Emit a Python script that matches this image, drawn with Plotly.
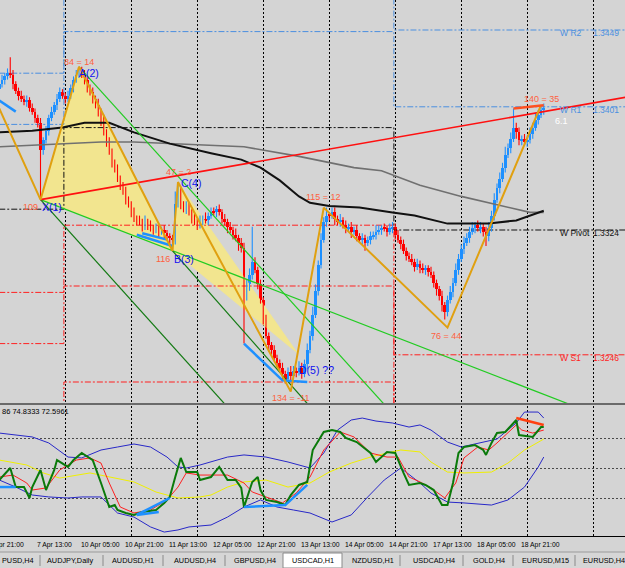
import plotly.graph_objects as go

# ---------------- DATA ----------------
first_open = 1.3412
closes = [
 1.3415,1.3418,1.3420,1.3422,1.3421,1.3415,1.3411,1.3408,1.3406,1.3404,
 1.3405,1.3400,1.3398,1.3394,1.3391,1.3374,1.3380,1.3386,1.3394,1.3398,
 1.3402,1.3406,1.3410,1.3408,1.3406,1.3408,1.3413,1.3418,1.3421,1.3424,
 1.3421,1.3418,1.3413,1.3410,1.3406,1.3402,1.3398,1.3393,1.3385,1.3379,
 1.3373,1.3366,1.3362,1.3356,1.3352,1.3348,1.3343,1.3340,1.3335,1.3331,
 1.3330,1.3329,1.3326,1.3329,1.3327,1.3325,1.3324,1.3325,1.3323,1.3324,
 1.3322,1.3320,1.3319,1.3318,1.3340,1.3348,1.3340,1.3337,1.3338,1.3335,
 1.3331,1.3329,1.3327,1.3330,1.3331,1.3330,1.3333,1.3335,1.3335,1.3337,
 1.3335,1.3331,1.3329,1.3326,1.3324,1.3321,1.3319,1.3316,1.3313,1.3283,
 1.3290,1.3296,1.3304,1.3299,1.3290,1.3280,1.3268,1.3258,1.3252,1.3249,
 1.3244,1.3241,1.3238,1.3234,1.3231,1.3235,1.3233,1.3236,1.3235,1.3238,
 1.3234,1.3240,1.3249,1.3258,1.3271,1.3286,1.3302,1.3318,1.3329,1.3333,
 1.3333,1.3335,1.3331,1.3329,1.3330,1.3327,1.3325,1.3326,1.3323,1.3324,
 1.3320,1.3318,1.3319,1.3316,1.3318,1.3320,1.3321,1.3323,1.3324,1.3325,
 1.3325,1.3323,1.3325,1.3326,1.3321,1.3318,1.3315,1.3311,1.3308,1.3306,
 1.3304,1.3301,1.3303,1.3300,1.3299,1.3300,1.3298,1.3296,1.3291,1.3287,
 1.3283,1.3277,1.3273,1.3280,1.3285,1.3291,1.3299,1.3306,1.3312,1.3316,
 1.3319,1.3323,1.3325,1.3327,1.3325,1.3326,1.3323,1.3320,1.3325,1.3333,
 1.3343,1.3350,1.3356,1.3363,1.3371,1.3375,1.3381,1.3388,1.3385,1.3380,
 1.3381,1.3379,1.3380,1.3384,1.3388,1.3393,1.3396,1.3399,1.3400,
]
up_wick_pips = [
 2,3,2,3,10,3,2,2,3,2, 3,2,3,2,2,3,2,3,2,3, 2,3,3,2,2,3,2,2,3,2,
 2,3,2,2,3,2,4,2,3,2, 3,2,2,3,2,2,3,2,2,3, 2,3,2,4,2,3,2,3,2,2,
 3,2,2,2,8,6,3,2,4,3, 2,3,2,3,2,4,2,3,3,2, 3,2,3,2,3,2,4,2,3,3,
 3,4,22,3,2,3,2,3,2,2, 3,2,2,3,2,3,4,3,2,4, 3,3,4,3,5,4,3,4,3,5,
 2,3,3,2,4,2,3,2,3,2, 3,2,3,2,2,3,2,4,3,2, 3,2,3,3,2,3,2,3,2,2,
 3,2,3,2,3,2,2,3,2,2, 2,3,2,3,4,3,4,3,3,4, 3,3,4,2,3,3,2,3,4,3,
 4,3,4,3,5,3,4,12,3,3, 2,3,3,4,3,4,3,2,3,
]
dn_wick_pips = [
 2,2,3,2,2,3,2,3,2,2, 3,2,2,3,3,30,3,2,3,2, 2,3,2,2,3,2,2,3,2,2,
 2,3,3,2,3,2,3,4,2,3, 2,3,2,2,3,2,3,2,3,2, 3,2,3,2,3,2,3,2,4,2,
 3,2,4,7,3,2,3,2,3,2, 3,2,3,2,3,2,3,2,2,3, 2,3,2,4,2,3,2,5,3,30,
 3,4,3,2,3,2,3,2,4,3, 2,3,2,3,3,2,3,2,3,2, 3,2,3,2,3,2,3,2,2,3,
 3,2,4,2,3,2,3,2,4,2, 3,2,3,5,2,3,2,3,2,3, 2,3,2,3,3,2,3,2,3,2,
 2,3,2,3,2,3,3,2,3,4, 3,4,5,3,2,3,2,3,2,3, 2,3,2,3,2,3,3,6,3,2,
 3,2,3,2,3,2,3,2,4,3, 3,2,3,2,3,2,3,2,3,
]

# moving averages (bar, price)
ma_fast_bars = [0,12,23,31,37,40,49,62,77,88,95,102,109,113,120,131,143,151,163,178,188,193,198]
ma_fast = [1.3385,1.3386,1.3388,1.3391,1.3391,1.3391,1.3385,1.3378,1.3372,1.3368,1.3363,1.3355,
           1.3345,1.3341,1.3339,1.3338,1.3335,1.3333,1.3328,1.3328,1.3330,1.3333,1.3336]
ma_slow_bars = [0,25,37,49,77,89,109,129,139,153,168,180,193,198]
ma_slow = [1.3376,1.3378,1.3379,1.3379,1.3377,1.3376,1.3370,1.3363,1.3361,1.3352,1.3345,1.3340,1.3335,1.3335]

# zigzag pattern
zz_bars = [0,15,29,63,65,106,118,163,197]
zz_prices = [1.3400,1.3343,1.3426,1.3311,1.3354,1.3223,1.3338,1.3263,1.3402]
tri1_bars = [15,29,63]
tri1_prices = [1.3343,1.3426,1.3311]
tri2_bars = [63,65,109]
tri2_prices = [1.3311,1.3354,1.3246]

# trend lines: (start bar, start price, end bar, end price)
tl_light_green = [(15,1.3343,227,1.3202),(29,1.3426,150,1.3196)]
tl_dark_green = [(15,1.3343,90,1.3200),(63,1.3311,120,1.3200)]
tl_red = (15,1.3343,228,1.3407)
tl_top = (187,1.3400,198,1.3402)
blue_wedge_bars = [[0,6],[50,63],[52,61],[89,103,112]]
blue_wedge_prices = [[1.3405,1.3398],[1.3321,1.3314],[1.3322,1.3318],[1.3253,1.3230,1.3229]]

# weekly pivots: previous-previous, previous, current week
week_switch = [23.5,143.5]
piv_R2 = [1.3422,1.3487,1.3449]
piv_R1 = [1.3390,1.3448,1.3401]
piv_P  = [1.3337,1.3388,1.3324]
piv_S1 = [1.3285,1.3327,1.3246]
piv_S2 = [1.3253,1.3289,1.3168]
piv_S3 = [1.3200,1.3229,1.3090]
cur_names = ["W R2","W R1","W Pivot","W S1"]
cur_values = [1.3449,1.3401,1.3324,1.3246]

# indicator window
ub_bars = [0,12,18,25,30,37,43,49,55,61,65,68,73,77,83,89,97,105,113,118,123,128,132,137,143,149,153,157,163,168,176,181,188,191,196,198]
ub_vals = [73.3,70.7,66.7,57.3,56.7,62.0,64.0,66.0,64.0,57.3,50.7,50.0,52.0,54.0,57.3,58.7,57.3,54.0,50.0,60.0,75.3,82.0,83.3,81.3,80.0,77.3,78.7,75.3,67.3,64.0,67.3,69.3,80.0,87.3,87.3,83.3]
lb_bars = [0,6,12,18,25,30,37,43,49,55,60,65,69,77,83,89,95,101,107,113,121,128,134,140,146,153,157,163,169,179,185,191,196,198]
lb_vals = [42.0,37.3,32.0,30.7,30.0,30.7,30.7,20.0,17.3,10.7,7.3,8.7,10.7,12.0,17.3,24.0,28.7,24.0,22.0,20.0,14.0,18.7,30.7,42.0,50.0,40.0,33.3,27.3,26.7,25.3,28.7,37.3,50.7,57.3]
mid_bars = [0,10,16,22,33,40,49,57,65,73,77,83,89,97,105,113,120,128,135,141,146,153,157,163,169,179,185,191,198]
mid_vals = [55.3,52.0,46.7,43.3,46.7,44.0,40.7,34.0,30.0,30.7,32.0,37.3,40.7,42.0,37.3,40.0,47.3,53.3,57.3,60.0,62.0,60.7,54.0,47.3,46.7,47.3,53.3,62.0,69.3]
sig_bars = [0,5,10,12,17,22,28,33,37,40,44,49,55,61,65,68,73,77,83,89,92,97,103,108,113,118,124,129,135,141,145,149,153,157,162,166,169,174,178,181,185,188,190,194,198]
sig_vals = [44.0,45.3,40.0,35.3,36.7,48.7,55.3,56.7,53.3,40.0,24.0,20.0,22.0,28.7,37.3,46.7,45.3,45.3,45.3,40.0,34.0,30.7,26.7,33.3,44.0,62.0,74.0,70.7,60.0,57.3,57.3,44.0,40.7,36.7,30.0,40.0,56.7,64.0,62.0,66.7,73.3,78.7,75.3,73.3,75.3]
osc_bars = [0,4,6,9,11,12,15,17,20,21,25,27,30,34,37,40,42,43,46,49,52,57,60,62,64,66,68,72,73,77,80,83,86,88,89,92,94,95,97,101,104,106,109,112,114,118,121,124,126,130,135,137,141,144,147,149,153,155,158,161,163,165,167,169,173,176,177,179,181,184,188,189,194,197,198]
osc_vals = [42.0,50.0,37.3,37.3,30.0,37.3,48.7,35.3,48.7,55.3,50.7,55.3,60.0,55.3,40.0,24.0,25.3,22.0,20.0,18.7,20.7,22.0,26.7,30.7,44.0,56.7,47.3,47.3,42.0,44.0,50.7,42.0,42.0,36.7,24.0,40.7,44.0,35.3,28.7,27.3,25.3,32.0,38.7,40.7,62.0,74.0,75.3,74.0,70.0,67.3,60.0,54.0,60.7,60.0,46.7,38.7,40.0,38.7,35.3,25.3,25.3,40.0,60.0,64.0,65.3,62.0,58.7,66.7,73.3,74.0,82.0,72.0,70.7,77.3,77.3]
osc_blue_bars = [[0,6],[50,62],[50,58],[89,104,112]]
osc_blue_vals = [[37.3,37.3],[18.7,30.0],[18.7,20.7],[24.0,25.3,38.7]]
osc_red_bars = [188,198]
osc_red_vals = [83.3,78.7]
osc_levels = [30,50,70]

time_label_bars = [13,29,45,61,77,93,109,125,141,157,173,189]
time_labels = ["7 Apr 13:00","10 Apr 05:00","10 Apr 21:00","11 Apr 13:00","12 Apr 05:00","12 Apr 21:00",
               "13 Apr 13:00","14 Apr 05:00","14 Apr 21:00","17 Apr 13:00","18 Apr 05:00","18 Apr 21:00"]
tab_names = ["PUSD,H4","AUDJPY,Daily","AUDUSD,H1","AUDUSD,H4","GBPUSD,H4","USDCAD,H1","NZDUSD,H1",
             "USDCAD,H4","GOLD,H4","EURUSD,M15","EURUSD,H4"]

# ---------------- FIGURE ----------------
W, H = 625, 568
BG = "#D4D4D4"
FONT = "Liberation Sans, Arial, sans-serif"
UP_C, DN_C = "#1E90FF", "#FF0000"
pip = 0.0001
bars = list(range(len(closes)))
opens = [first_open] + closes[:-1]
highs = [max(o, c) + u * pip for o, c, u in zip(opens, closes, up_wick_pips)]
lows = [min(o, c) - d * pip for o, c, d in zip(opens, closes, dn_wick_pips)]
is_up = [c > o for o, c in zip(opens, closes)]

fig = go.Figure()

def line(xs, ys, color, width, dash="solid", shape="linear", xa="x", ya="y"):
    fig.add_trace(go.Scatter(x=xs, y=ys, mode="lines", xaxis=xa, yaxis=ya,
                             line=dict(color=color, width=width, dash=dash, shape=shape),
                             hoverinfo="skip", showlegend=False))

# yellow pattern triangles
for bx, py in [(tri1_bars, tri1_prices), (tri2_bars, tri2_prices)]:
    fig.add_trace(go.Scatter(x=bx + [bx[0]], y=py + [py[0]], mode="lines", fill="toself",
                             fillcolor="#F2E58F", line=dict(width=0), hoverinfo="skip", showlegend=False))

# weekly pivot step lines
DD = "6px,2px,2px,2px"
pv_x = [0, week_switch[0], week_switch[1], 230]
for vals, col in [(piv_R2, "#4A8FE0"), (piv_R1, "#4A8FE0"), (piv_P, "#111111"),
                  (piv_S1, "#FF2020"), (piv_S2, "#FF2020"), (piv_S3, "#FF2020")]:
    line(pv_x, [vals[0], vals[1], vals[2], vals[2]], col, 1, DD, "hv")

# candles: wicks then bodies
for flag, col in [(True, UP_C), (False, DN_C)]:
    wx, wy = [], []
    for i in bars:
        if is_up[i] == flag:
            wx += [i, i, None]
            wy += [lows[i], highs[i], None]
    line(wx, wy, col, 1.1)
body_base = [min(o, c) for o, c in zip(opens, closes)]
body_h = [max(abs(c - o), 0.00005) for o, c in zip(opens, closes)]
fig.add_trace(go.Bar(x=bars, y=body_h, base=body_base, width=0.97,
                     marker=dict(color=[UP_C if u else DN_C for u in is_up], line=dict(width=0)),
                     hoverinfo="skip", showlegend=False))

# moving averages
line(ma_slow_bars, ma_slow, "#707070", 1.6)
line(ma_fast_bars, ma_fast, "#111111", 2)

# trend lines
for b0, p0, b1, p1 in tl_light_green:
    line([b0, b1], [p0, p1], "#22CC22", 1.2)
for b0, p0, b1, p1 in tl_dark_green:
    line([b0, b1], [p0, p1], "#137A13", 1.2)
line([tl_red[0], tl_red[2]], [tl_red[1], tl_red[3]], "#FF1010", 1.6)
for bx, py in zip(blue_wedge_bars, blue_wedge_prices):
    line(bx, py, "#1E90FF", 2.5)

# zigzag
line(zz_bars, zz_prices, "#E0A010", 2)
line([tl_top[0], tl_top[2]], [tl_top[1], tl_top[3]], "#FF5020", 2.5)

# indicator window
line(ub_bars, ub_vals, "#2828C8", 1, xa="x2", ya="y2")
line(lb_bars, lb_vals, "#2828C8", 1, xa="x2", ya="y2")
line(mid_bars, mid_vals, "#F0F000", 1, xa="x2", ya="y2")
line(sig_bars, sig_vals, "#FF2020", 1, xa="x2", ya="y2")
line(osc_bars, osc_vals, "#0A7A0A", 2, xa="x2", ya="y2")
for bx, vy in zip(osc_blue_bars, osc_blue_vals):
    line(bx, vy, "#1E90FF", 2.5, xa="x2", ya="y2")
line(osc_red_bars, osc_red_vals, "#FF4010", 2.5, xa="x2", ya="y2")

ann = []
def text(x, y, s, color, size, xanchor="center", xs=0, ys=0, family=FONT, xref="x", yref="y"):
    ann.append(dict(x=x, y=y, xref=xref, yref=yref, text=s, showarrow=False,
                    xanchor=xanchor, yanchor="middle", xshift=xs, yshift=ys,
                    font=dict(color=color, size=size, family=family)))

OR = "#FF6040"
BL = "#1010F0"
# pattern labels anchored at zigzag pivots
text(zz_bars[2], zz_prices[2], "84 = 14", OR, 9, ys=5)
text(zz_bars[2], zz_prices[2], "A(2)", BL, 10.5, "left", -2, -6)
text(zz_bars[1], zz_prices[1], "109", OR, 9, "right", -1, -7)
text(zz_bars[1], zz_prices[1], "X(1)", BL, 10.5, "left", -1, -7)
text(zz_bars[3], zz_prices[3], "116", OR, 9, "right", -1, -8)
text(zz_bars[3], zz_prices[3], "B(3)", BL, 10.5, "left", -1, -8)
text(zz_bars[4], zz_prices[4], "47 = 2", OR, 9, ys=10)
text(zz_bars[4], zz_prices[4], "C(4)", BL, 10.5, "left", 1, -1)
text(zz_bars[6], zz_prices[6], "115 = 12", OR, 9, ys=11)
text(zz_bars[5], zz_prices[5], "134 = -11", OR, 9, ys=-6)
text(zz_bars[5], zz_prices[5], "D(5) ??", BL, 10.5, "left", 6, 22)
text(zz_bars[7], zz_prices[7], "76 = 44", OR, 9, xs=-2, ys=-8)
text(zz_bars[8], zz_prices[8], "140 = 35", OR, 9, ys=6)
text(201.3, closes[-1] - 0.0008, "6.1", "#FFFFFF", 9, "left")

# weekly level labels
for nm, v, col in zip(cur_names, cur_values, ["#4A8FE0", "#4A8FE0", "#111111", "#FF2020"]):
    text(203.0, v, nm, col, 8.5, "left", ys=-3)
    text(215.2, v, f"{v:.4f}", col, 8.5, "left", ys=-3)

# indicator title
text(0.0, (H - 411) / H, "86 74.8333 72.5961", "#000000", 7.5, "left", xref="paper", yref="paper")

# time labels
for b, s in zip(time_label_bars, time_labels):
    text(b, (H - 545) / H, s, "#000000", 6.8, "left", yref="paper")
text(-13 / W, (H - 545) / H, "6 Apr 21:00", "#000000", 6.8, "left", xref="paper", yref="paper")

# tabs
tab_left_px = [0, 45, 110, 172, 232, 290, 350, 411, 471, 520, 581]
for px, s in zip(tab_left_px, tab_names):
    text(px / W, (H - 560) / H, s, "#000000", 7.3, "left", xref="paper", yref="paper")

shapes = []
shapes.append(dict(type="rect", xref="paper", yref="paper", x0=0, x1=1, y0=0, y1=(H - 552) / H,
                   fillcolor="#D6D6D6", line=dict(width=0), layer="below"))
shapes.append(dict(type="line", xref="paper", yref="paper", x0=0, x1=1, y0=(H - 552) / H, y1=(H - 552) / H,
                   line=dict(color="#9A9A9A", width=1)))
shapes.append(dict(type="rect", xref="paper", yref="paper", x0=283 / W, x1=342 / W, y0=0, y1=(H - 553) / H,
                   fillcolor="#FFFFFF", line=dict(color="#8A8A8A", width=1)))
for sx in [40, 103, 163, 225, 400, 463, 513, 575]:
    shapes.append(dict(type="line", xref="paper", yref="paper", x0=sx / W, x1=sx / W,
                       y0=(H - 566) / H, y1=(H - 555) / H, line=dict(color="#8A8A8A", width=1)))
shapes.append(dict(type="line", xref="paper", yref="paper", x0=0, x1=1, y0=(H - 404) / H, y1=(H - 404) / H,
                   line=dict(color="#6A6A6A", width=2)))
shapes.append(dict(type="line", xref="paper", yref="paper", x0=0, x1=1, y0=(H - 536.5) / H, y1=(H - 536.5) / H,
                   line=dict(color="#000000", width=1)))

xr = [(0 + 0.75) / 2.75, (W + 0.75) / 2.75]
xcommon = dict(range=xr, showticklabels=False, tick0=0, dtick=24, showgrid=True, gridcolor="#000000",
               gridwidth=1, griddash="2px,2px", zeroline=False, showline=False, ticks="", fixedrange=True)

fig.update_layout(
    width=W, height=H, margin=dict(l=0, r=0, t=0, b=0),
    paper_bgcolor=BG, plot_bgcolor=BG, showlegend=False, hovermode=False, bargap=0,
    xaxis=dict(**xcommon, anchor="y"),
    xaxis2=dict(**xcommon, anchor="y2"),
    yaxis=dict(domain=[(H - 403) / H, 1], range=[1.3215875, 1.346775], showticklabels=False,
               showgrid=False, zeroline=False, fixedrange=True),
    yaxis2=dict(domain=[(H - 536) / H, (H - 406) / H], range=[4.667, 91.333], showticklabels=False,
                tickvals=osc_levels, showgrid=True, gridcolor="#4A4A4A", griddash="2px,2px",
                zeroline=False, fixedrange=True),
    annotations=ann, shapes=shapes,
)

fig.write_html("out.html")
